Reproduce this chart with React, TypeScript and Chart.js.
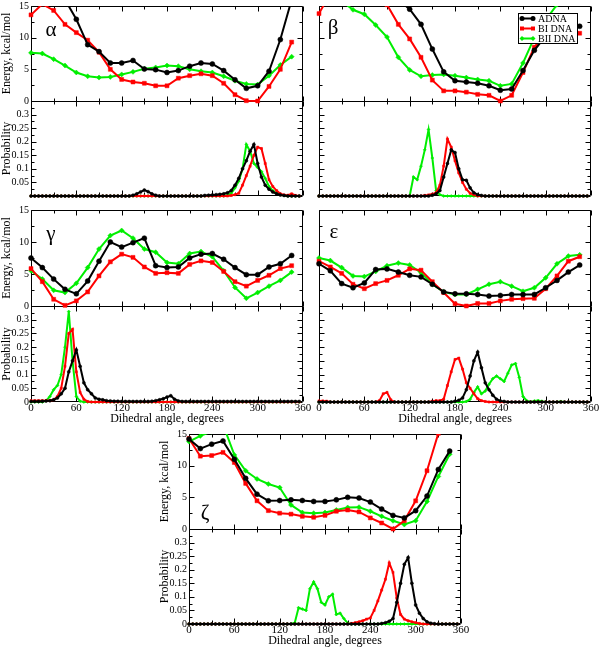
import React, { useEffect, useRef } from 'react';
import { Chart, registerables } from 'chart.js';

Chart.register(...registerables);
Chart.defaults.font.family = '"Liberation Serif", "Times New Roman", serif';
Chart.defaults.color = '#000';

// ---------- axes / ticks ----------
const E_ANGLES = [0, 15, 30, 45, 60, 75, 90, 105, 120, 135, 150, 165, 180, 195, 210, 225, 240, 255, 270, 285, 300, 315, 330, 345];
const P_ANGLES = [
  0, 5, 10, 15, 20, 25, 30, 35, 40, 45, 50, 55,
  60, 65, 70, 75, 80, 85, 90, 95, 100, 105, 110, 115,
  120, 125, 130, 135, 140, 145, 150, 155, 160, 165, 170, 175,
  180, 185, 190, 195, 200, 205, 210, 215, 220, 225, 230, 235,
  240, 245, 250, 255, 260, 265, 270, 275, 280, 285, 290, 295,
  300, 305, 310, 315, 320, 325, 330, 335, 340, 345, 350, 355,
];
const X_TICKS = [0, 30, 60, 90, 120, 150, 180, 210, 240, 270, 300, 330, 360];
const X_LABELS = ['0', '60', '120', '180', '240', '300', '360'];
const E_TICKS = [0, 2.5, 5, 7.5, 10, 12.5, 15];
const E_LABEL_TICKS = [0, 5, 10, 15];
const P_TICKS = [0, 0.025, 0.05, 0.075, 0.1, 0.125, 0.15, 0.175, 0.2, 0.225, 0.25, 0.275, 0.3, 0.325, 0.35];
const P_LABEL_TICKS = [0, 0.05, 0.1, 0.15, 0.2, 0.25, 0.3, 0.35];

const SERIES = ['ADNA', 'BI DNA', 'BII DNA'];
const COLORS = ['#000000', '#ff0000', '#00ee00'];
const STYLES = ['circle', 'rect', 'rectRot'];

// ---------- alpha ----------
const ALPHA_E_ADNA = [24, 21, 18, 16, 12.9, 8.9, 7.8, 6.0, 6.0, 6.4, 5.05, 4.95, 4.5, 4.8, 5.5, 6.0, 5.85, 4.8, 3.35, 2.0, 2.4, 4.7, 9.7, 16];
const ALPHA_E_BI = [13.6, 15.3, 14.3, 12.1, 10.8, 9.6, 7.7, 5.0, 3.4, 3.0, 2.8, 2.4, 2.4, 3.6, 4.0, 4.3, 4.0, 2.8, 1.0, 0.05, 0.0, 2.3, 5.0, 9.3];
const ALPHA_E_BII = [7.6, 7.5, 6.6, 5.6, 4.5, 3.9, 3.7, 3.8, 4.2, 4.6, 5.1, 5.3, 5.6, 5.5, 5.0, 4.7, 4.5, 3.9, 3.2, 2.7, 2.6, 4.0, 5.7, 7.0];
const ALPHA_P_ADNA = [
  0, 0, 0, 0, 0, 0, 0, 0, 0, 0, 0, 0,
  0, 0, 0, 0, 0, 0, 0, 0, 0, 0, 0, 0,
  0, 0, 0, 0.003, 0.008, 0.015, 0.022, 0.016, 0.008, 0.003, 0, 0,
  0, 0, 0, 0, 0, 0, 0, 0, 0, 0, 0.002, 0.003,
  0.004, 0.005, 0.006, 0.008, 0.012, 0.02, 0.04, 0.065, 0.1, 0.13, 0.165, 0.19,
  0.12, 0.07, 0.04, 0.025, 0.015, 0.008, 0.004, 0.002, 0, 0, 0, 0,
];
const ALPHA_P_BI = [
  0, 0, 0, 0, 0, 0, 0, 0, 0, 0, 0, 0,
  0, 0, 0, 0, 0, 0, 0, 0, 0, 0, 0, 0,
  0, 0, 0, 0, 0, 0, 0, 0, 0, 0, 0, 0,
  0, 0, 0, 0, 0, 0, 0, 0, 0, 0, 0, 0,
  0, 0, 0, 0, 0, 0.002, 0.005, 0.01, 0.04, 0.075, 0.11, 0.15,
  0.18, 0.175, 0.12, 0.06, 0.035, 0.02, 0.008, 0.004, 0.003, 0.008, 0.002, 0,
];
const ALPHA_P_BII = [
  0, 0, 0, 0, 0, 0, 0, 0, 0, 0, 0, 0,
  0, 0, 0, 0, 0, 0, 0, 0, 0, 0, 0, 0,
  0, 0, 0, 0, 0, 0, 0, 0, 0, 0, 0, 0,
  0, 0, 0, 0, 0, 0, 0, 0, 0, 0, 0, 0,
  0, 0, 0, 0, 0.003, 0.01, 0.03, 0.055, 0.1, 0.19, 0.165, 0.12,
  0.105, 0.09, 0.065, 0.035, 0.02, 0.01, 0.005, 0.002, 0, 0, 0, 0,
];

// ---------- beta ----------
const BETA_E_ADNA = [22, 24, 25, 24, 22, 20, 18, 16, 14.5, 12.1, 8.2, 4.6, 3.2, 3.0, 2.8, 2.4, 1.7, 1.9, 4.8, 8.0, 10.3, 11.8, 12.3, 11.8];
const BETA_E_BI = [13.8, 17, 19, 20, 19.5, 17.5, 15.2, 12.1, 9.8, 6.9, 3.3, 1.6, 1.6, 1.4, 1.05, 0.9, 0.0, 0.9, 4.5, 8.5, 10.5, 11.5, 11.5, 10.7];
const BETA_E_BII = [19, 17.5, 15.8, 14.4, 13.7, 12.0, 10.1, 6.9, 4.9, 3.9, 4.1, 4.2, 4.0, 3.7, 3.4, 3.2, 2.4, 2.7, 6.0, 10.0, 12.8, 15.2, 17, 18];
const BETA_P_ADNA = [
  0, 0, 0, 0, 0, 0, 0, 0, 0, 0, 0, 0,
  0, 0, 0, 0, 0, 0, 0, 0, 0, 0, 0, 0,
  0, 0, 0, 0, 0, 0, 0.003, 0.008, 0.02, 0.07, 0.12, 0.17,
  0.16, 0.1, 0.06, 0.058, 0.03, 0.012, 0.005, 0.002, 0, 0, 0, 0,
  0, 0, 0, 0, 0, 0, 0, 0, 0, 0, 0, 0,
  0, 0, 0, 0, 0, 0, 0, 0, 0, 0, 0, 0,
];
const BETA_P_BI = [
  0, 0, 0, 0, 0, 0, 0, 0, 0, 0, 0, 0,
  0, 0, 0, 0, 0, 0, 0, 0, 0, 0, 0, 0,
  0, 0, 0, 0, 0.002, 0.004, 0.007, 0.012, 0.04, 0.11, 0.21, 0.18,
  0.13, 0.085, 0.05, 0.025, 0.01, 0.004, 0, 0, 0, 0, 0, 0,
  0, 0, 0, 0, 0, 0, 0, 0, 0, 0, 0, 0,
  0, 0, 0, 0, 0, 0, 0, 0, 0, 0, 0, 0,
];
const BETA_P_BII = [
  0, 0, 0, 0, 0, 0, 0, 0, 0, 0, 0, 0,
  0, 0, 0, 0, 0, 0, 0, 0, 0, 0, 0, 0,
  0, 0.07, 0.06, 0.11, 0.17, 0.245, 0.14, 0.02, 0.005, 0, 0, 0,
  0, 0, 0, 0, 0, 0, 0, 0, 0, 0, 0, 0,
  0, 0, 0, 0, 0, 0, 0, 0, 0, 0, 0, 0,
  0, 0, 0, 0, 0, 0, 0, 0, 0, 0, 0, 0,
];

// ---------- gamma ----------
const GAMMA_E_ADNA = [7.5, 6.0, 4.2, 2.6, 1.9, 3.9, 7.0, 10.0, 9.2, 9.9, 10.6, 6.3, 6.0, 6.1, 7.5, 8.1, 8.2, 7.3, 6.0, 4.9, 4.9, 6.1, 6.6, 7.9];
const GAMMA_E_BI = [5.85, 3.8, 1.05, 0.1, 0.8, 2.2, 4.7, 6.9, 8.1, 7.6, 6.1, 5.1, 5.2, 5.1, 6.5, 7.05, 6.8, 5.4, 3.8, 3.1, 4.0, 4.8, 5.85, 6.3];
const GAMMA_E_BII = [5.5, 4.2, 2.45, 2.1, 3.55, 6.0, 8.9, 11.0, 11.8, 10.6, 8.9, 8.4, 6.8, 6.6, 8.2, 8.5, 7.7, 5.5, 2.9, 1.2, 2.1, 3.1, 4.0, 5.3];
const GAMMA_P_ADNA = [
  0.002, 0.002, 0.002, 0.003, 0.004, 0.005, 0.008, 0.015, 0.03, 0.05, 0.11, 0.15,
  0.19, 0.13, 0.07, 0.045, 0.03, 0.015, 0.01, 0.008, 0.005, 0.004, 0.003, 0.003,
  0.002, 0.002, 0.002, 0.002, 0.002, 0.002, 0.002, 0.002, 0.003, 0.005, 0.008, 0.012,
  0.018, 0.023, 0.01, 0.004, 0.002, 0.002, 0.002, 0.002, 0.002, 0.002, 0.002, 0.002,
  0.002, 0.002, 0.002, 0.002, 0.002, 0.002, 0.002, 0.002, 0.002, 0.002, 0.002, 0.002,
  0.002, 0.002, 0.002, 0.002, 0.002, 0.002, 0.002, 0.002, 0.002, 0.002, 0.002, 0.002,
];
const GAMMA_P_BI = [
  0.005, 0.005, 0.005, 0.005, 0.005, 0.005, 0.008, 0.02, 0.05, 0.13, 0.25, 0.265,
  0.11, 0.035, 0.01, 0.002, 0, 0, 0, 0, 0, 0, 0, 0,
  0, 0, 0, 0, 0, 0, 0, 0, 0, 0, 0, 0,
  0, 0, 0, 0, 0, 0, 0, 0, 0, 0, 0, 0,
  0, 0, 0, 0, 0, 0, 0, 0, 0, 0, 0, 0,
  0, 0, 0, 0, 0, 0, 0, 0, 0, 0, 0, 0,
];
const GAMMA_P_BII = [
  0, 0, 0, 0, 0.005, 0.02, 0.045, 0.06, 0.1, 0.2, 0.33, 0.15,
  0.02, 0.003, 0, 0, 0, 0, 0, 0, 0, 0, 0, 0,
  0, 0, 0, 0, 0, 0, 0, 0, 0, 0, 0, 0,
  0, 0, 0, 0, 0, 0, 0, 0, 0, 0, 0, 0,
  0, 0, 0, 0, 0, 0, 0, 0, 0, 0, 0, 0,
  0, 0, 0, 0, 0, 0, 0, 0, 0, 0, 0, 0,
];

// ---------- epsilon ----------
const EPS_E_ADNA = [6.6, 5.5, 3.5, 2.85, 3.6, 5.7, 5.8, 5.3, 4.8, 4.55, 3.4, 2.2, 1.9, 1.9, 1.8, 1.55, 1.65, 1.8, 1.8, 1.8, 2.85, 4.0, 5.3, 6.4];
const EPS_E_BI = [7.0, 6.1, 5.1, 3.4, 2.7, 3.5, 4.0, 4.8, 5.8, 5.6, 3.8, 2.1, 0.35, 0.0, 0.4, 0.4, 0.8, 1.05, 1.15, 1.2, 2.7, 4.7, 7.0, 7.7];
const EPS_E_BII = [7.5, 7.1, 6.0, 4.7, 4.6, 5.4, 6.3, 6.7, 6.4, 5.2, 3.4, 2.2, 1.8, 1.8, 2.6, 3.4, 3.8, 3.1, 2.3, 2.85, 4.4, 6.6, 7.8, 8.0];
const EPS_P_ADNA = [
  0, 0, 0, 0, 0, 0, 0, 0, 0, 0, 0, 0,
  0, 0, 0, 0, 0, 0, 0, 0, 0, 0, 0, 0,
  0, 0, 0, 0, 0, 0, 0, 0, 0, 0, 0, 0,
  0.003, 0.006, 0.015, 0.045, 0.095, 0.15, 0.182, 0.125, 0.07, 0.045, 0.025, 0.01,
  0.004, 0.002, 0, 0, 0, 0, 0, 0, 0, 0, 0, 0,
  0, 0, 0, 0, 0, 0, 0, 0, 0, 0, 0, 0,
];
const EPS_P_BI = [
  0.004, 0.004, 0.003, 0, 0, 0, 0, 0, 0, 0, 0, 0,
  0, 0, 0, 0, 0.005, 0.03, 0.035, 0.008, 0, 0, 0, 0,
  0, 0, 0, 0, 0, 0, 0.003, 0.005, 0.005, 0.01, 0.06, 0.11,
  0.155, 0.16, 0.12, 0.07, 0.05, 0.03, 0.012, 0.005, 0.002, 0, 0, 0,
  0, 0, 0, 0, 0, 0, 0, 0, 0, 0, 0, 0,
  0, 0, 0, 0, 0, 0, 0, 0, 0, 0, 0, 0,
];
const EPS_P_BII = [
  0, 0, 0, 0, 0, 0, 0, 0, 0, 0, 0, 0,
  0, 0, 0, 0, 0, 0, 0, 0, 0, 0, 0, 0,
  0, 0, 0, 0, 0, 0, 0, 0, 0, 0, 0, 0,
  0, 0, 0, 0.002, 0.01, 0.035, 0.055, 0.03, 0.04, 0.065, 0.085, 0.095,
  0.085, 0.075, 0.105, 0.135, 0.14, 0.09, 0.02, 0.005, 0, 0.004, 0.005, 0.003,
  0, 0, 0, 0, 0.002, 0, 0, 0, 0, 0, 0, 0,
];

// ---------- zeta ----------
const ZETA_E_ADNA = [14.2, 12.7, 13.4, 13.9, 11.0, 8.0, 5.5, 4.45, 4.5, 4.6, 4.5, 4.35, 4.35, 4.6, 5.0, 4.9, 4.25, 3.15, 2.15, 1.75, 2.9, 5.2, 9.4, 12.3];
const ZETA_E_BI = [14.3, 11.5, 11.6, 12.1, 10.5, 7.2, 4.45, 2.9, 2.5, 2.35, 2.0, 1.85, 2.15, 2.8, 3.0, 2.7, 1.75, 0.95, 0.0, 1.3, 4.45, 9.2, 15.1, 20];
const ZETA_E_BII = [13.8, 14.7, 15.4, 16.5, 11.7, 9.2, 7.9, 7.1, 6.55, 3.8, 2.6, 2.5, 2.6, 3.0, 3.4, 3.45, 2.8, 2.0, 1.3, 0.7, 1.3, 4.35, 8.3, 11.8];
const ZETA_P_ADNA = [
  0, 0, 0, 0, 0, 0, 0, 0, 0, 0, 0, 0,
  0, 0, 0, 0, 0, 0, 0, 0, 0, 0, 0, 0,
  0, 0, 0, 0, 0, 0, 0, 0, 0, 0, 0, 0,
  0, 0, 0, 0, 0, 0, 0, 0, 0, 0, 0, 0,
  0, 0, 0, 0.002, 0.005, 0.01, 0.02, 0.08, 0.15, 0.22, 0.245, 0.15,
  0.07, 0.04, 0.02, 0.008, 0.003, 0.001, 0, 0, 0, 0, 0, 0,
];
const ZETA_P_BI = [
  0, 0, 0, 0, 0, 0, 0, 0, 0, 0, 0, 0,
  0, 0, 0, 0, 0, 0, 0, 0, 0, 0, 0, 0,
  0, 0, 0, 0, 0, 0, 0, 0, 0, 0, 0, 0,
  0, 0, 0, 0, 0, 0, 0, 0.002, 0.005, 0.008, 0.012, 0.018,
  0.022, 0.05, 0.085, 0.125, 0.165, 0.225, 0.19, 0.095, 0.035, 0.018, 0.012, 0.008,
  0.005, 0.002, 0, 0, 0, 0, 0, 0, 0, 0, 0, 0,
];
const ZETA_P_BII = [
  0, 0, 0, 0, 0, 0, 0, 0, 0, 0, 0, 0,
  0, 0, 0, 0, 0, 0, 0, 0, 0, 0, 0, 0,
  0, 0, 0, 0, 0.005, 0.06, 0.055, 0.05, 0.13, 0.155, 0.13, 0.08,
  0.07, 0.1, 0.11, 0.035, 0.04, 0.02, 0.003, 0, 0, 0, 0, 0,
  0, 0, 0, 0, 0, 0, 0, 0, 0, 0, 0, 0,
  0, 0, 0, 0, 0, 0, 0, 0, 0, 0, 0, 0,
];

type PanelCfg = {
  key: string;
  letter: string;
  letterPos: [number, number];
  left: number;
  top: number;
  right: number;
  bottom: number;
  yLabels: boolean;
  xLabels: boolean;
  probZero: boolean;
  legend: boolean;
  energy: number[][];
  prob: number[][];
};

const PANELS: PanelCfg[] = [
  { key: 'alpha', letter: 'α', letterPos: [51, 29], left: 31, top: 6, right: 303, bottom: 196, yLabels: true, xLabels: false, probZero: false, legend: false,
    energy: [ALPHA_E_ADNA, ALPHA_E_BI, ALPHA_E_BII], prob: [ALPHA_P_ADNA, ALPHA_P_BI, ALPHA_P_BII] },
  { key: 'beta', letter: 'β', letterPos: [333, 27], left: 319, top: 6, right: 591, bottom: 196, yLabels: false, xLabels: false, probZero: false, legend: true,
    energy: [BETA_E_ADNA, BETA_E_BI, BETA_E_BII], prob: [BETA_P_ADNA, BETA_P_BI, BETA_P_BII] },
  { key: 'gamma', letter: 'γ', letterPos: [51, 233], left: 31, top: 210, right: 303, bottom: 402, yLabels: true, xLabels: true, probZero: true, legend: false,
    energy: [GAMMA_E_ADNA, GAMMA_E_BI, GAMMA_E_BII], prob: [GAMMA_P_ADNA, GAMMA_P_BI, GAMMA_P_BII] },
  { key: 'eps', letter: 'ε', letterPos: [334, 231], left: 319, top: 210, right: 591, bottom: 402, yLabels: false, xLabels: true, probZero: true, legend: false,
    energy: [EPS_E_ADNA, EPS_E_BI, EPS_E_BII], prob: [EPS_P_ADNA, EPS_P_BI, EPS_P_BII] },
  { key: 'zeta', letter: 'ζ', letterPos: [205, 512], left: 189, top: 434, right: 461, bottom: 624, yLabels: true, xLabels: true, probZero: true, legend: false,
    energy: [ZETA_E_ADNA, ZETA_E_BI, ZETA_E_BII], prob: [ZETA_P_ADNA, ZETA_P_BI, ZETA_P_BII] },
];

const framePlugin = {
  id: 'frame',
  beforeDatasetsDraw(chart: any) {
    const { ctx, chartArea: a, scales } = chart;
    const x = scales.x, yE = scales.yE, yP = scales.yP;
    const c = (v: number) => Math.round(v) + 0.5;
    const L = c(a.left), R = c(a.right) - 1, T = c(a.top), B = c(a.bottom) - 1, M = c(yE.bottom);
    ctx.save();
    ctx.strokeStyle = '#000';
    ctx.lineWidth = 1;
    ctx.beginPath();
    ctx.rect(L, T, R - L, B - T);
    ctx.moveTo(L, M);
    ctx.lineTo(R, M);
    X_TICKS.forEach((v) => {
      const p = c(x.getPixelForValue(v));
      const len = v % 60 === 0 ? 5 : 3;
      ctx.moveTo(p, T); ctx.lineTo(p, T + len);
      ctx.moveTo(p, M); ctx.lineTo(p, M - len);
      ctx.moveTo(p, M); ctx.lineTo(p, M + len);
      ctx.moveTo(p, B); ctx.lineTo(p, B - len);
    });
    E_TICKS.forEach((v) => {
      const p = c(yE.getPixelForValue(v));
      const len = v % 5 === 0 ? 5 : 3;
      ctx.moveTo(L, p); ctx.lineTo(L + len, p);
      ctx.moveTo(R, p); ctx.lineTo(R - len, p);
    });
    P_TICKS.forEach((v, i) => {
      const p = c(yP.getPixelForValue(v));
      const len = i % 2 === 0 ? 5 : 3;
      ctx.moveTo(L, p); ctx.lineTo(L + len, p);
      ctx.moveTo(R, p); ctx.lineTo(R - len, p);
    });
    ctx.stroke();
    ctx.restore();
  },
};

function drawMarker(ctx: CanvasRenderingContext2D, style: string, x: number, y: number, r: number) {
  ctx.beginPath();
  if (style === 'circle') {
    ctx.arc(x, y, r, 0, Math.PI * 2);
  } else if (style === 'rect') {
    ctx.rect(x - r * 0.8, y - r * 0.8, r * 1.6, r * 1.6);
  } else {
    ctx.moveTo(x - r, y); ctx.lineTo(x, y - r); ctx.lineTo(x + r, y); ctx.lineTo(x, y + r); ctx.closePath();
  }
  ctx.fill();
}

const legendPlugin = {
  id: 'dnaLegend',
  afterDatasetsDraw(chart: any) {
    const { ctx, chartArea: a } = chart;
    const bx = Math.round(a.left) + 199, by = Math.round(a.top) + 7, bw = 59, bh = 30;
    ctx.save();
    ctx.fillStyle = '#fff';
    ctx.fillRect(bx, by, bw, bh);
    ctx.strokeStyle = '#000';
    ctx.lineWidth = 1;
    ctx.strokeRect(bx + 0.5, by + 0.5, bw, bh);
    chart.data.datasets.slice(0, 3).forEach((ds: any, i: number) => {
      const cy = by + 5.5 + i * 10;
      ctx.strokeStyle = ds.borderColor;
      ctx.fillStyle = ds.borderColor;
      ctx.lineWidth = 2;
      ctx.beginPath();
      ctx.moveTo(bx + 4, cy); ctx.lineTo(bx + 15, cy);
      ctx.stroke();
      drawMarker(ctx, ds.pointStyle, bx + 4, cy, 2.5);
      drawMarker(ctx, ds.pointStyle, bx + 15, cy, 2.5);
      ctx.fillStyle = '#000';
      ctx.font = '10px "Liberation Serif", serif';
      ctx.textBaseline = 'middle';
      ctx.textAlign = 'left';
      ctx.fillText(ds.label, bx + 20, cy + 0.5);
    });
    ctx.restore();
  },
};

function Panel({ cfg }: { cfg: PanelCfg }) {
  const ref = useRef<HTMLCanvasElement>(null);
  const padL = cfg.yLabels ? 0 : 6;
  const yw = cfg.yLabels ? 31 : 0;
  const padT = 8;
  const padR = 12;
  const xh = cfg.xLabels ? 24 : 0;
  const padB = cfg.xLabels ? 2 : 8;
  const w = padL + yw + (cfg.right - cfg.left) + padR;
  const h = padT + (cfg.bottom - cfg.top) + xh + padB;
  const x0 = cfg.left - yw - padL;
  const y0 = cfg.top - padT;

  useEffect(() => {
    const clip = { left: 4, right: 4, top: 0, bottom: 4 };
    const energySets = cfg.energy.map((arr, k) => ({
      label: SERIES[k],
      data: E_ANGLES.map((a, i) => ({ x: a, y: arr[i] })),
      yAxisID: 'yE',
      borderColor: COLORS[k],
      backgroundColor: COLORS[k],
      pointBackgroundColor: COLORS[k],
      pointBorderColor: COLORS[k],
      pointStyle: STYLES[k],
      pointRadius: k === 1 ? 2.8 : 2.5,
      pointBorderWidth: 0.5,
      borderWidth: 2,
      tension: 0,
      clip,
    }));
    const probSets = cfg.prob.map((arr, k) => ({
      label: SERIES[k] + ' P',
      data: P_ANGLES.map((a, i) => ({ x: a, y: arr[i] })),
      yAxisID: 'yP',
      borderColor: COLORS[k],
      backgroundColor: COLORS[k],
      pointBackgroundColor: COLORS[k],
      pointBorderColor: COLORS[k],
      pointStyle: STYLES[k],
      pointRadius: 1.5,
      pointBorderWidth: 0.5,
      borderWidth: 2,
      tension: 0,
      clip,
    }));
    const xTickFont = { size: 11 };
    const yTickFont = { size: 10 };
    const titleFont = { size: 12 };
    const chart = new Chart(ref.current as HTMLCanvasElement, {
      type: 'line',
      data: { datasets: [...energySets, ...probSets] as any },
      plugins: cfg.legend ? [framePlugin, legendPlugin] : [framePlugin],
      options: {
        responsive: false,
        animation: false,
        events: [],
        layout: { padding: { left: padL, right: padR, top: padT, bottom: padB } },
        plugins: { legend: { display: false }, tooltip: { enabled: false }, title: { display: false } },
        scales: {
          x: {
            type: 'linear',
            min: 0,
            max: 360,
            grid: { display: false, drawTicks: false },
            border: { display: false },
            afterBuildTicks: (s: any) => { s.ticks = X_TICKS.map((v) => ({ value: v })); },
            ticks: {
              display: cfg.xLabels,
              autoSkip: false,
              maxRotation: 0,
              padding: 0,
              font: xTickFont,
              color: '#000',
              callback: (v: any) => (Number(v) % 60 === 0 ? X_LABELS[Number(v) / 60] : ''),
            },
            title: { display: cfg.xLabels, text: 'Dihedral angle, degrees', font: titleFont, color: '#000', padding: { top: 0, bottom: 0 } },
            afterFit: (s: any) => { s.height = xh; },
          },
          yP: {
            type: 'linear',
            position: 'left',
            stack: 'panel',
            stackWeight: 1,
            min: 0,
            max: 0.35,
            grid: { display: false, drawTicks: false },
            border: { display: false },
            afterBuildTicks: (s: any) => { s.ticks = P_LABEL_TICKS.map((v) => ({ value: v })); },
            ticks: {
              display: cfg.yLabels,
              autoSkip: false,
              padding: 2,
              font: yTickFont,
              color: '#000',
              callback: (v: any) => {
                const n = Math.round(Number(v) * 100) / 100;
                if (n >= 0.35) return '';
                if (n === 0 && !cfg.probZero) return '';
                return String(n);
              },
            },
            title: { display: cfg.yLabels, text: 'Probability', font: titleFont, color: '#000', padding: { top: 0, bottom: 0 } },
            afterFit: (s: any) => { s.width = yw; },
          },
          yE: {
            type: 'linear',
            position: 'left',
            stack: 'panel',
            stackWeight: 1,
            min: 0,
            max: 15,
            grid: { display: false, drawTicks: false },
            border: { display: false },
            afterBuildTicks: (s: any) => { s.ticks = E_LABEL_TICKS.map((v) => ({ value: v })); },
            ticks: {
              display: cfg.yLabels,
              autoSkip: false,
              padding: 2,
              font: yTickFont,
              color: '#000',
              callback: (v: any) => String(v),
            },
            title: { display: cfg.yLabels, text: 'Energy, kcal/mol', font: titleFont, color: '#000', padding: { top: 0, bottom: 0 } },
            afterFit: (s: any) => { s.width = yw; },
          },
        },
      } as any,
    });
    return () => chart.destroy();
  }, []);

  return (
    <canvas
      ref={ref}
      width={w}
      height={h}
      style={{ position: 'absolute', left: x0, top: y0, width: w, height: h }}
    />
  );
}

export default function App() {
  return (
    <div style={{ position: 'absolute', left: 0, top: 0, width: 600, height: 648, background: '#fff', overflow: 'hidden' }}>
      {PANELS.map((p) => (
        <Panel key={p.key} cfg={p} />
      ))}
      {PANELS.map((p) => (
        <span
          key={'l' + p.key}
          style={{
            position: 'absolute',
            left: p.letterPos[0],
            top: p.letterPos[1],
            transform: 'translate(-50%, -50%)',
            fontFamily: '"Liberation Serif", "Times New Roman", serif',
            fontSize: 21,
            lineHeight: 1,
            color: '#000',
          }}
        >
          {p.letter}
        </span>
      ))}
    </div>
  );
}
